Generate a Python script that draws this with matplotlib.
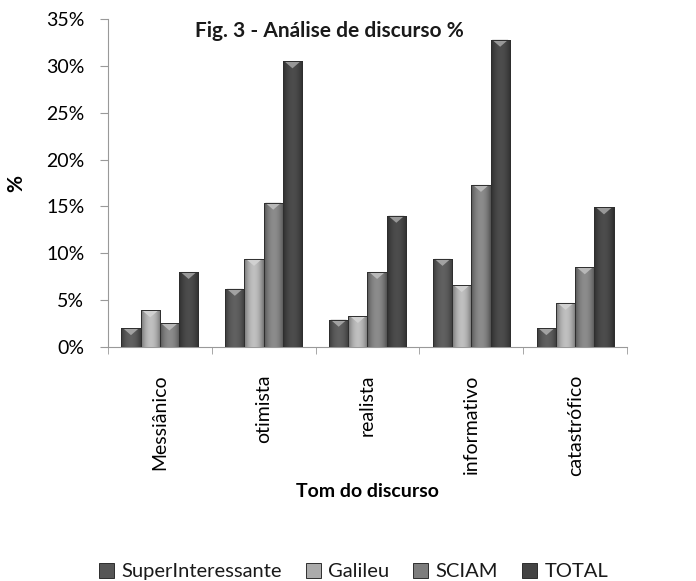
import matplotlib.pyplot as plt
import numpy as np
from matplotlib.ticker import FuncFormatter
from matplotlib.colors import to_rgb
from matplotlib.patches import Polygon

# dados (%)
categorias = ["Messiânico", "otimista", "realista", "informativo", "catastrófico"]
series = ["SuperInteressante", "Galileu", "SCIAM", "TOTAL"]
superinteressante = [2.0, 6.2, 2.9, 9.4, 2.0]
galileu = [3.9, 9.4, 3.3, 6.6, 4.7]
sciam = [2.5, 15.4, 8.0, 17.3, 8.5]
total = [8.0, 30.5, 14.0, 32.8, 14.9]

valores = [superinteressante, galileu, sciam, total]
cores = ["#565656", "#ababab", "#7d7d7d", "#444444"]

plt.rcParams['font.family'] = ['Lato', 'DejaVu Sans']
plt.rcParams['text.color'] = '#1a1a1a'

fig = plt.figure(figsize=(6.96, 5.81), dpi=100)
ax = fig.add_axes([0.155, 0.403, 0.746, 0.564])

x = np.arange(len(categorias))
largura = 0.185
offsets = (np.arange(4) - 1.5) * largura

# perfil do gradiente horizontal (bordas escuras, centro claro)
perfil = np.linspace(-1, 1, 60)
perfil = 1.12 - 0.45 * np.abs(perfil) ** 2

for i, (nome, vals, cor) in enumerate(zip(series, valores, cores)):
    barras = ax.bar(x + offsets[i], vals, largura, color=cor, edgecolor="#2e2e2e",
                    linewidth=0.7, label=nome, zorder=2)
    base = np.array(to_rgb(cor))
    img_rgb = np.clip(base[None, None, :] * perfil[None, :, None], 0, 1)
    topo = np.clip(base + (1 - base) * 0.45, 0, 1)
    for b in barras:
        x0, w, h = b.get_x(), b.get_width(), b.get_height()
        img = ax.imshow(img_rgb, aspect="auto", extent=(x0, x0 + w, 0, h), zorder=3,
                        interpolation="bilinear")
        img.set_clip_path(b)
        # pequeno chanfro claro no topo
        prof = min(0.75, h * 0.5)
        tri = Polygon([(x0 + w * 0.08, h), (x0 + w * 0.92, h), (x0 + w * 0.5, h - prof)],
                      closed=True, facecolor=topo, edgecolor="none", zorder=4)
        ax.add_patch(tri)
        ax.add_patch(plt.Rectangle((x0, 0), w, h, fill=False, edgecolor="#2e2e2e",
                                   linewidth=0.7, zorder=5))

ax.set_xlim(-0.5, len(categorias) - 0.5)
ax.set_ylim(0, 35)
ax.set_yticks(np.arange(0, 36, 5))
ax.yaxis.set_major_formatter(FuncFormatter(lambda v, p: "%d%%" % v))
ax.set_xticks(x)
ax.set_xticklabels(categorias, rotation=90, fontsize=14)
ax.set_xticks(np.arange(-0.5, len(categorias)), minor=True)
ax.tick_params(axis="x", which="major", length=0, pad=20)
ax.tick_params(axis="x", which="minor", length=5, color="#999999")
ax.tick_params(axis="y", labelsize=14, length=6, color="#999999", pad=11)

for s in ["top", "right"]:
    ax.spines[s].set_visible(False)
ax.spines["left"].set_color("#999999")
ax.spines["bottom"].set_color("#999999")

ax.set_title("Fig. 3 - Análise de discurso %", fontsize=15, fontweight="bold",
             x=0.426, y=0.92)
ax.set_xlabel("Tom do discurso", fontsize=14, fontweight="bold", labelpad=5)
ax.set_ylabel("%", fontsize=15, fontweight="bold", labelpad=14)

fig.legend(loc="lower center", ncol=4, frameon=False, fontsize=14.5,
           bbox_to_anchor=(0.508, -0.03), handlelength=0.75, handleheight=0.75,
           columnspacing=1.2, handletextpad=0.35)

fig.savefig("out.png", dpi=100)
